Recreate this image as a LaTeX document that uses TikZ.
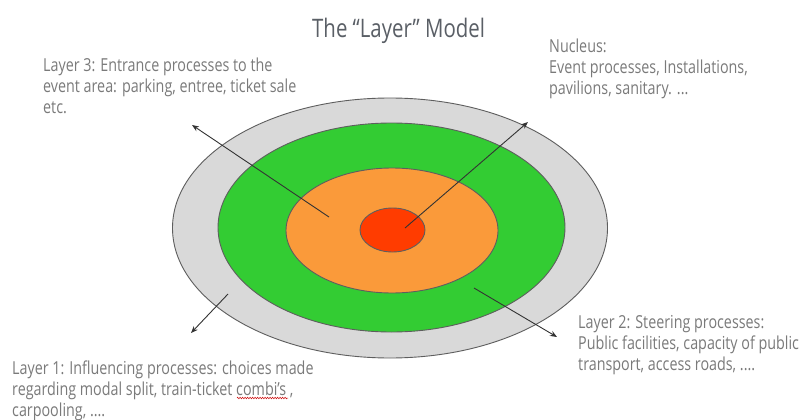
\documentclass[tikz,border=0pt]{standalone}
\usepackage{fontspec}
\setmainfont{Open Sans}[FakeStretch=0.8]
\usetikzlibrary{shapes.geometric,arrows.meta,decorations.pathmorphing}
\definecolor{ringgray}{HTML}{D9D9D9}
\definecolor{ringgreen}{HTML}{33CC33}
\definecolor{ringorange}{HTML}{FA9A3A}
\definecolor{ringred}{HTML}{FF3C00}
\definecolor{edgegray}{HTML}{5E5E5E}
\definecolor{txtgray}{HTML}{7A7A7A}
\definecolor{titlegray}{HTML}{5A5F66}
\definecolor{arrowgray}{HTML}{333333}
\tikzset{
  ring/.style={ellipse, draw=edgegray, line width=0.9pt, inner sep=0pt},
  ptr/.style={draw=arrowgray, line width=0.9pt, -{Stealth[length=7pt,width=5.5pt]}},
  label/.style={anchor=north west, inner sep=0pt, align=left, text=txtgray,
    font=\fontsize{17.9}{21}\selectfont},
  titletext/.style={anchor=base west, inner sep=0pt, text=titlegray,
    font=\fontsize{25.5}{30}\selectfont}
}
\begin{document}
\begin{tikzpicture}[x=1pt,y=-1pt]
\useasboundingbox (0,0) rectangle (806,420);
\fill[white] (0,0) rectangle (806,420);
\node[ring, fill=ringgray, minimum width=435pt, minimum height=260pt] (outer) at (390,228) {};
\node[ring, fill=ringgreen, minimum width=347pt, minimum height=209pt] (green) at (391.5,227.5) {};
\node[ring, fill=ringorange, minimum width=212pt, minimum height=125pt] (orange) at (392,230.5) {};
\node[ring, fill=ringred, minimum width=65pt, minimum height=44pt] (nucleus) at (392.5,230) {};
\coordinate (l3s) at (329,217); \coordinate (l3e) at (192,125);
\coordinate (nus) at (405,228); \coordinate (nue) at (528,122);
\coordinate (l1s) at (228,294); \coordinate (l1e) at (191,333);
\coordinate (l2s) at (474,288); \coordinate (l2e) at (557,337);
\draw[ptr] (l3s) -- (l3e);
\draw[ptr] (nus) -- (nue);
\draw[ptr] (l1s) -- (l1e);
\draw[ptr] (l2s) -- (l2e);
\node[titletext] (title) at (312,38) {The “Layer” Model};
\node[label] (t3) at (43,58) {Layer 3: Entrance processes to the\\event area: parking, entree, ticket sale\\etc.};
\node[label] (tn) at (549,39) {Nucleus:\\Event processes, Installations,\\pavilions, sanitary. ...};
\node[label] (t1) at (12,361) {Layer 1: Influencing processes: choices made\\regarding modal split, train-ticket combi’s ,\\carpooling, ....};
\node[label] (t2) at (578,315) {Layer 2: Steering processes:\\Public facilities, capacity of public\\transport, access roads, ....};
\coordinate (sqa) at (237,398); \coordinate (sqb) at (288,398);
\draw[red!80!black, line width=0.5pt, decorate, decoration={zigzag, amplitude=0.8pt, segment length=2.5pt}] (sqa) -- (sqb);
\end{tikzpicture}
\end{document}
